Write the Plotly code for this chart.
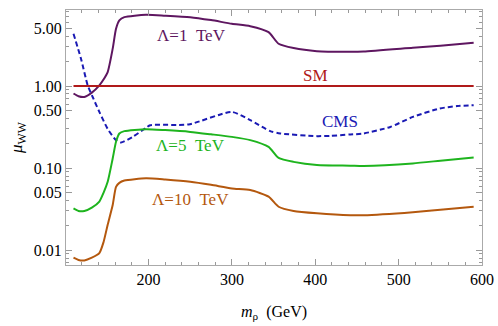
import plotly.graph_objects as go
import numpy as np

# ---- data ----
m_lam = [110, 116, 123, 132, 141, 146, 151, 157, 161, 165, 171, 197, 220, 250, 275,
         300, 322, 344, 356, 374, 402, 442, 458, 517, 550, 590]
mu_lam1 = [0.81, 0.75, 0.735, 0.83, 1.02, 1.2, 1.48, 2.85, 4.98, 6.29, 6.9, 7.37, 7.2, 6.9, 6.35,
           5.73, 5.36, 4.53, 3.27, 2.9, 2.66, 2.62, 2.64, 2.93, 3.1, 3.37]
mu_lam5 = [0.0322, 0.030, 0.030, 0.033, 0.0391, 0.05, 0.0681, 0.131, 0.209, 0.264, 0.282, 0.298, 0.29,
           0.276, 0.258, 0.24, 0.219, 0.181, 0.133, 0.119, 0.109, 0.107, 0.106, 0.114, 0.123, 0.135]
mu_lam10 = [0.0081, 0.0076, 0.0075, 0.0081, 0.0092, 0.0125, 0.0204, 0.0355, 0.0591, 0.066, 0.0705,
            0.075, 0.0725, 0.0682, 0.0625, 0.0565, 0.0539, 0.0448, 0.0338, 0.0300, 0.0281, 0.0266,
            0.0266, 0.0290, 0.031, 0.0338]

m_sm = [110, 590]
mu_sm = [1.0, 1.0]

m_cms = [110, 119, 127, 133, 141, 151, 161, 167, 181, 197, 202, 248, 300, 322, 346, 358, 402,
         418, 442, 457, 490, 517, 549, 570, 590]
mu_cms = [4.33, 2.15, 1.02, 0.735, 0.483, 0.30, 0.219, 0.205, 0.24, 0.31, 0.333, 0.34, 0.483,
          0.383, 0.282, 0.264, 0.245, 0.247, 0.257, 0.263, 0.317, 0.42, 0.531, 0.57, 0.583]

y_tick_vals = [0.01, 0.05, 0.1, 0.5, 1.0, 5.0]
y_tick_text = ["0.01", "0.05", "0.10", "0.50", "1.00", "5.00"]
x_tick_vals = [200, 300, 400, 500, 600]

labels = ["Λ=1  TeV", "SM", "CMS", "Λ=5  TeV", "Λ=10  TeV"]
label_m = [251, 400, 430, 250, 250]
label_mu = [4.13, 1.35, 0.365, 0.187, 0.0417]

# ---- styling ----
C_PURPLE = "#5E1660"
C_RED = "#B01A1A"
C_BLUE = "#1A1AB4"
C_GREEN = "#1EB41E"
C_BROWN = "#B4580E"
FONT = "Liberation Serif"

fig = go.Figure()
line_kw = dict(shape="spline", smoothing=0.6)
fig.add_trace(go.Scatter(x=m_lam, y=mu_lam1, mode="lines",
                         line=dict(color=C_PURPLE, width=2, **line_kw)))
fig.add_trace(go.Scatter(x=m_sm, y=mu_sm, mode="lines", line=dict(color=C_RED, width=2)))
fig.add_trace(go.Scatter(x=m_cms, y=mu_cms, mode="lines",
                         line=dict(color=C_BLUE, width=2, dash="5px,3px", **line_kw)))
fig.add_trace(go.Scatter(x=m_lam, y=mu_lam5, mode="lines",
                         line=dict(color=C_GREEN, width=2, **line_kw)))
fig.add_trace(go.Scatter(x=m_lam, y=mu_lam10, mode="lines",
                         line=dict(color=C_BROWN, width=2, **line_kw)))

colors = [C_PURPLE, C_RED, C_BLUE, C_GREEN, C_BROWN]
for t, xm, yv, c in zip(labels, label_m, label_mu, colors):
    fig.add_annotation(x=xm, y=np.log10(yv), text=t, showarrow=False,
                       font=dict(family=FONT, size=17, color=c),
                       xanchor="center", yanchor="middle")

minor_y = []
for d in [0.001, 0.01, 0.1, 1.0]:
    for k in range(2, 10):
        v = k * d
        if 0.0065 < v < 8.5 and k != 5:
            minor_y.append(v)

fig.update_layout(
    width=498, height=326,
    margin=dict(l=66, r=16, t=9.5, b=61, autoexpand=False),
    paper_bgcolor="white", plot_bgcolor="white",
    showlegend=False,
    font=dict(family=FONT, size=15, color="black"),
    xaxis=dict(range=[101, 600], tickvals=x_tick_vals, ticks="inside", ticklen=6,
               tickcolor="#999999", showline=True, linecolor="#AAAAAA", linewidth=1,
               mirror="ticks", showgrid=False, zeroline=False, automargin=False,
               tickfont=dict(family=FONT, size=16),
               minor=dict(dtick=20, tick0=100, ticks="inside", ticklen=3, tickcolor="#999999",
                          showgrid=False),
               title=dict(text="<i>m</i><sub>ρ</sub>  (GeV)", font=dict(family=FONT, size=16),
                          standoff=18)),
    yaxis=dict(type="log", range=[-2.181, 0.926], tickvals=y_tick_vals, ticktext=y_tick_text,
               ticks="inside", ticklen=6, tickcolor="#999999", showline=True,
               linecolor="#AAAAAA", linewidth=1, mirror="ticks", showgrid=False,
               zeroline=False, automargin=False, tickfont=dict(family=FONT, size=16),
               minor=dict(tickvals=minor_y, ticks="inside", ticklen=3, tickcolor="#999999",
                          showgrid=False),
               title=dict(text="<i>μ</i><sub>WW</sub>", font=dict(family=FONT, size=17),
                          standoff=6)),
)

fig.write_html("out.html", config={"displayModeBar": False},
               post_script="document.body.style.margin='0';document.body.style.overflow='hidden';")
